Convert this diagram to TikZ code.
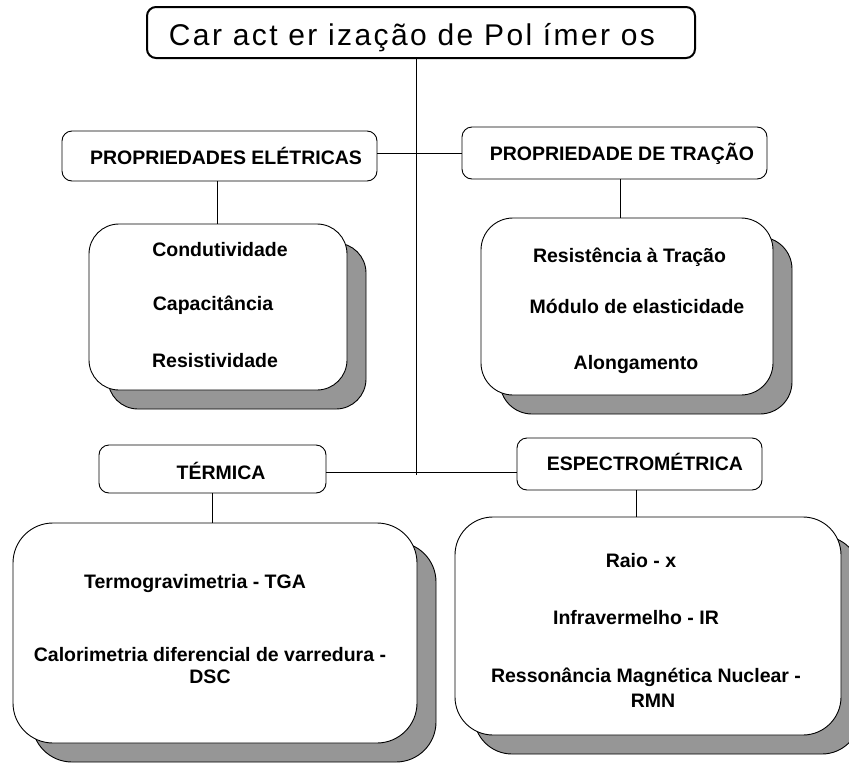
\documentclass[tikz,border=0pt]{standalone}
\usepackage{fontspec}
\setmainfont{Liberation Sans}
\newfontfamily\titlefont[LetterSpace=8]{Liberation Sans}
\usepackage{xcolor}
\usepackage{tikz}
\usetikzlibrary{shadows}

\definecolor{shadowgray}{RGB}{150,150,150}
\tikzset{
  head/.style={draw=black, line width=0.9pt, rounded corners=10pt, fill=white, inner sep=0pt},
  bigbox/.style={draw=black, line width=0.9pt, fill=white, inner sep=0pt,
    general shadow={fill=shadowgray, draw=black, line width=0.9pt, shadow xshift=19pt, shadow yshift=-19pt}},
  lbl/.style={anchor=base, inner sep=0pt, font=\fontsize{19.5}{22}\selectfont\bfseries},
  link/.style={draw=black, line width=0.9pt}
}

\begin{document}
\begin{tikzpicture}[x=1pt,y=-1pt]
    \useasboundingbox (0,0) rectangle (849,763);

    % title
    \node[head, line width=2pt, rounded corners=9pt, minimum width=548pt, minimum height=51pt] (title) at (421,32.5) {};
    \node[anchor=base, inner sep=0pt, font=\titlefont\fontsize{30}{34}\selectfont] (titletext) at (412,45) {Car act er ização de Pol ímer os};

    % PROPRIEDADES
    \node[head, minimum width=315pt, minimum height=50pt] (eletr) at (219.5,156) {};
    \node[lbl] (eletrtext) at (226,164) {PROPRIEDADES ELÉTRICAS};
    \node[head, minimum width=305pt, minimum height=52pt] (tracao) at (614.5,153) {};
    \node[lbl] (tracaotext) at (622,160) {PROPRIEDADE DE TRAÇÃO};

    \node[bigbox, rounded corners=30pt, minimum width=258pt, minimum height=166pt] (eletrbox) at (218,307) {};
    \node[lbl] (cond) at (220,256) {Condutividade};
    \node[lbl] (capac) at (213,310) {Capacitância};
    \node[lbl] (resist) at (215,367) {Resistividade};

    \node[bigbox, rounded corners=32pt, minimum width=292pt, minimum height=177pt] (tracaobox) at (627,306.5) {};
    \node[lbl] (restr) at (629.5,262) {Resistência à Tração};
    \node[lbl] (modulo) at (637,313) {Módulo de elasticidade};
    \node[lbl] (along) at (636,369) {Alongamento};

    % TERMICA / ESPECTROMETRICA
    \node[head, minimum width=227pt, minimum height=48pt] (termica) at (212.5,469) {};
    \node[lbl] (termicatext) at (221,479) {TÉRMICA};
    \node[head, minimum width=245pt, minimum height=52pt] (espec) at (639.5,464) {};
    \node[lbl] (espectext) at (645,470) {ESPECTROMÉTRICA};

    \node[bigbox, rounded corners=40pt, minimum width=404pt, minimum height=220pt] (termicabox) at (215,633) {};
    \node[lbl] (tga) at (195,588) {Termogravimetria - TGA};
    \node[lbl] (dsc) at (210,661) {Calorimetria diferencial de varredura -};
    \node[lbl] (dscb) at (210,683) {DSC};

    \node[bigbox, rounded corners=38pt, minimum width=386pt, minimum height=218pt] (especbox) at (648,626) {};
    \node[lbl] (raiox) at (641,567) {Raio - x};
    \node[lbl] (ir) at (636,624) {Infravermelho - IR};
    \node[lbl] (rmn) at (646,682) {Ressonância Magnética Nuclear -};
    \node[lbl] (rmnb) at (653,707) {RMN};

    % |
    \coordinate (trunk) at (416,472);
    \draw[link] (title.south -| trunk) -- ([yshift=-3pt]trunk);
    \draw[link] (eletr.east |- tracao.west) -- (tracao.west);
    \draw[link] (termica.east |- trunk) -- (espec.west |- trunk);
    % down
    \draw[link] ([xshift=-2pt]eletr.south) -- ([xshift=-2pt]eletr.south |- eletrbox.north);
    \draw[link] ([xshift=6pt]tracao.south) -- ([xshift=6pt]tracao.south |- tracaobox.north);
    \draw[link] (termica.south) -- (termica.south |- termicabox.north);
    \draw[link] ([xshift=-3pt]espec.south) -- ([xshift=-3pt]espec.south |- especbox.north);
\end{tikzpicture}
\end{document}
